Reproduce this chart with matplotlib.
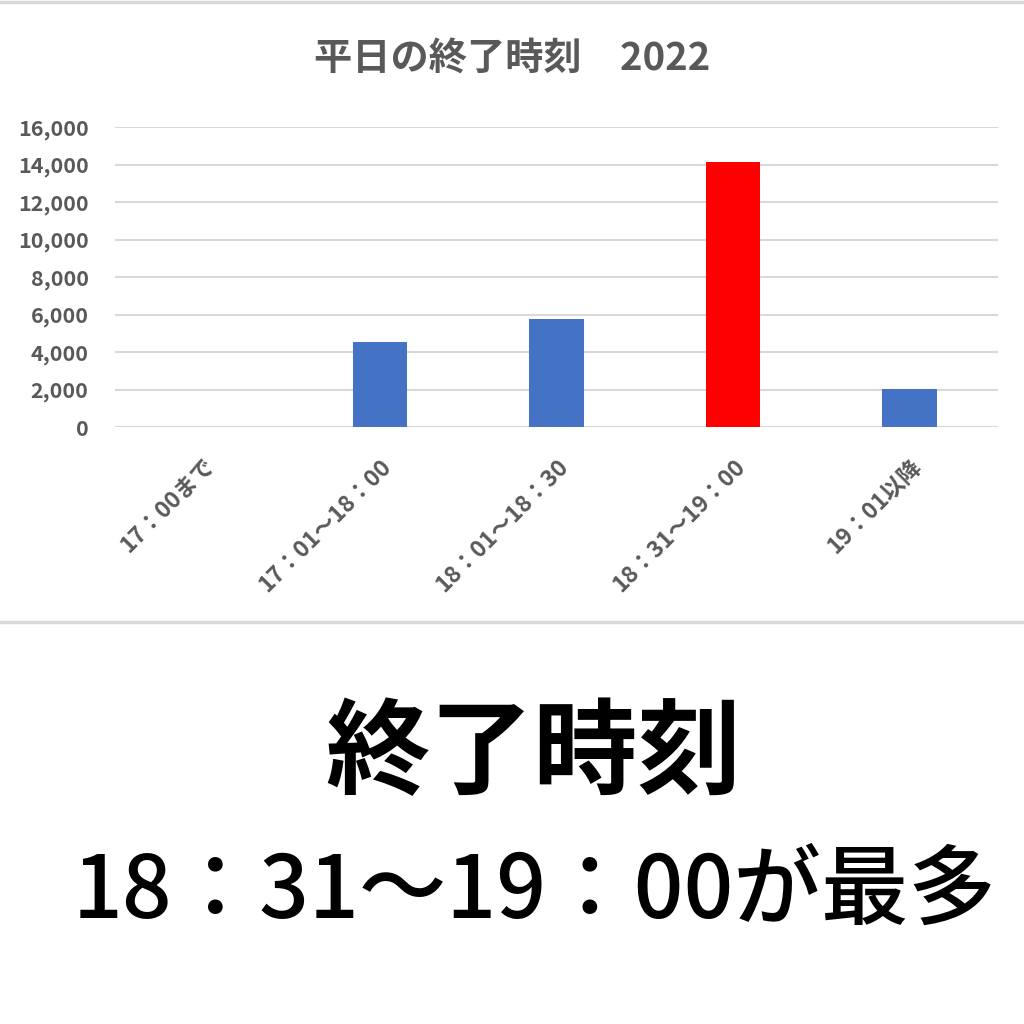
import matplotlib
matplotlib.use("Agg")
import matplotlib.pyplot as plt
from matplotlib.lines import Line2D
from matplotlib.ticker import FuncFormatter

plt.rcParams["font.family"] = ["Noto Sans CJK JP", "DejaVu Sans"]

# data
categories = ["17：00まで", "17：01～18：00", "18：01～18：30", "18：31～19：00", "19：01以降"]
counts = [0, 4530, 5780, 14160, 2030]
bar_colors = ["#4472c4", "#4472c4", "#4472c4", "#ff0000", "#4472c4"]
y_ticks = [0, 2000, 4000, 6000, 8000, 10000, 12000, 14000, 16000]

title = "平日の終了時刻　2022"
headline = "終了時刻"
subline = "18：31～19：00が最多"

GRAY = "#595959"

fig = plt.figure(figsize=(10.24, 10.24), dpi=100)
fig.patch.set_facecolor("white")

# axes: x 115..998 px, y 127..427 px (from top)
ax = fig.add_axes([115 / 1024, 1 - 427 / 1024, 883 / 1024, 300 / 1024])
x = list(range(len(categories)))
ax.bar(x, counts, width=0.31, color=bar_colors, zorder=3)
ax.set_xlim(-0.5, len(categories) - 0.5)
ax.set_ylim(0, 16000)
ax.set_yticks(y_ticks)
ax.yaxis.set_major_formatter(FuncFormatter(lambda v, p: f"{int(v):,}"))
ax.grid(axis="y", color="#d9d9d9", linewidth=1.5, zorder=0)
for s in ax.spines.values():
    s.set_visible(False)
ax.tick_params(axis="both", length=0, colors=GRAY)
ax.tick_params(axis="y", pad=19)
for lab in ax.get_yticklabels():
    lab.set_fontsize(15.5)
    lab.set_fontweight("bold")
    lab.set_color(GRAY)
ax.set_xticks(x)
ax.set_xticklabels(categories, rotation=45, ha="right", rotation_mode="anchor",
                   fontsize=16.5, fontweight="bold", color=GRAY)
ax.tick_params(axis="x", pad=20)

fig.text(0.5, 1 - 58 / 1024, title, ha="center", va="center",
         fontsize=27.5, fontweight="bold", color=GRAY)

# separator lines
fig.add_artist(Line2D([0, 1], [1 - 2 / 1024, 1 - 2 / 1024], color="#d9d9d9", linewidth=2.5))
fig.add_artist(Line2D([0, 1], [1 - 622 / 1024, 1 - 622 / 1024], color="#d9d9d9", linewidth=2.5))

fig.text(534 / 1024, 1 - 755 / 1024, headline, ha="center", va="center",
         fontsize=75, fontweight="bold", color="black")
fig.text(535 / 1024, 1 - 893 / 1024, subline, ha="center", va="center",
         fontsize=63, fontweight="medium", color="black")

fig.savefig("out.png", dpi=100, facecolor="white")
